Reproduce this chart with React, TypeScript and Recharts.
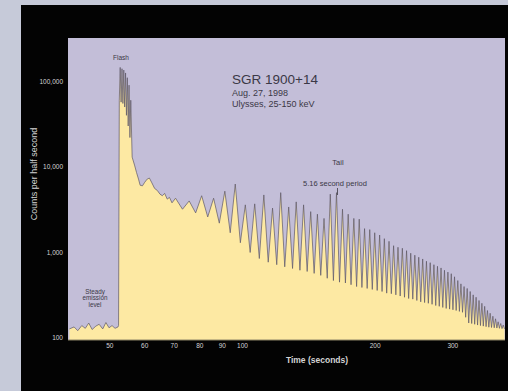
import { Area, CartesianGrid, ComposedChart, XAxis, YAxis } from "recharts";

// Ulysses light curve, SGR 1900+14, 27 Aug 1998 (counts per half second)
const preTimes = [40.5, 41.5, 42.3, 43.2, 44.0, 44.8, 45.6, 46.5, 47.3, 48.2, 49.0, 49.8, 50.6, 51.4, 52.2];
const preCounts = [128, 135, 122, 140, 130, 150, 126, 138, 145, 128, 152, 132, 140, 130, 135];

const flashTimes = [
  52.35, 52.55, 52.8, 53.05, 53.3, 53.55, 53.8, 54.05, 54.3, 54.55, 54.8, 55.05, 55.3, 55.55, 55.8,
  56.2, 56.9, 57.5, 58.1, 58.6, 59.3, 60.0, 60.8, 61.5, 62.3, 63.2, 64.1, 65.0, 65.8, 66.6, 67.5, 68.3, 69.2,
];
const flashCounts = [
  140, 60000, 145000, 57000, 140000, 55000, 135000, 50000, 125000, 40000, 110000, 30000, 90000, 22000, 60000,
  13000, 10500, 8600, 7200, 6100, 6000, 6600, 7200, 7400, 6500, 5600, 5300, 4800, 4600, 4900, 4200, 4400, 3800,
];

// 5.16 s pulsations in the tail
const pulsePeakTimes = [
  70.5, 75.7, 80.8, 86.0, 91.2, 96.3, 101.5, 106.6, 111.8, 117.0, 122.1, 127.3, 132.4, 137.6, 142.8, 147.9,
  153.1, 158.2, 163.4, 168.6, 173.7, 178.9, 184.0, 189.2, 194.4, 199.5, 204.7, 209.8, 215.0, 220.2, 225.3,
  230.5, 235.6, 240.8, 246.0, 251.1, 256.3, 261.4, 266.6, 271.8, 276.9, 282.1, 287.2, 292.4, 297.6, 302.7,
  307.9, 313.0, 318.2, 323.4, 328.5, 333.7, 338.8, 344.0, 349.2, 354.3, 359.5, 364.6, 369.8, 375.0, 380.1,
  385.3, 390.4,
];
const pulsePeakCounts = [
  4300, 4000, 4600, 4300, 5200, 6300, 3600, 3700, 4700, 3300, 5000, 3400, 3900, 3600, 3000, 2800,
  2500, 4800, 5000, 3200, 2800, 2500, 2450, 1900, 1850, 1700, 1600, 1450, 1350, 1200, 1150,
  1120, 1050, 980, 930, 880, 840, 790, 760, 720, 690, 660, 620, 590, 565, 520,
  470, 430, 400, 380, 350, 320, 300, 275, 255, 235, 210, 195, 180, 168, 155,
  148, 142,
];
const pulseTroughTimes = [
  73.1, 78.3, 83.4, 88.6, 93.8, 98.9, 104.1, 109.2, 114.4, 119.6, 124.7, 129.9, 135.0, 140.2, 145.4, 150.5,
  155.7, 160.8, 166.0, 171.2, 176.3, 181.5, 186.6, 191.8, 197.0, 202.1, 207.3, 212.4, 217.6, 222.8, 227.9,
  233.1, 238.2, 243.4, 248.6, 253.7, 258.9, 264.0, 269.2, 274.4, 279.5, 284.7, 289.8, 295.0, 300.2, 305.3,
  310.5, 315.6, 320.8, 326.0, 331.1, 336.3, 341.4, 346.6, 351.8, 356.9, 362.1, 367.2, 372.4, 377.6, 382.7,
  387.9, 393.0,
];
const pulseTroughCounts = [
  3200, 2900, 2600, 2200, 1700, 1300, 1000, 850, 770, 720, 680, 650, 620, 600, 570, 540,
  500, 470, 450, 440, 420, 400, 390, 380, 370, 360, 350, 335, 330, 320, 310,
  300, 290, 285, 275, 265, 260, 255, 248, 240, 235, 228, 222, 218, 214, 210,
  205, 200, 175, 150, 148, 145, 142, 140, 138, 136, 134, 133, 132, 131, 130,
  129, 128,
];

const X_TICKS = [50, 60, 70, 80, 90, 100, 200, 300];
const Y_TICKS = [100, 1000, 10000, 100000];

const FONT = '"Liberation Sans", Arial, sans-serif';
const PLOT_BG = "#c3bed8";
const FILL = "#fde9a3";
const INK = "#3b3846";
const LIGHT = "#d4d4d4";

function buildSeries() {
  const rows: Array<{ time: number; counts: number }> = [];
  preTimes.forEach((t, i) => rows.push({ time: t, counts: preCounts[i] }));
  flashTimes.forEach((t, i) => rows.push({ time: t, counts: flashCounts[i] }));
  pulsePeakTimes.forEach((t, i) => rows.push({ time: t, counts: pulsePeakCounts[i] }));
  pulseTroughTimes.forEach((t, i) => rows.push({ time: t, counts: pulseTroughCounts[i] }));
  return rows.sort((a, b) => a.time - b.time);
}

const data = buildSeries();

function Note({
  x,
  y,
  size,
  children,
  color = INK,
  align = "center",
  weight = 400,
}: {
  x: number;
  y: number;
  size: number;
  children: React.ReactNode;
  color?: string;
  align?: "center" | "left";
  weight?: number;
}) {
  return (
    <div
      style={{
        position: "absolute",
        left: x,
        top: y,
        transform: align === "center" ? "translate(-50%, -50%)" : "translate(0, -50%)",
        fontSize: size,
        fontWeight: weight,
        color,
        lineHeight: 1,
        whiteSpace: "nowrap",
        textAlign: "center",
      }}
    >
      {children}
    </div>
  );
}

export default function App() {
  return (
    <div
      style={{
        position: "fixed",
        left: 0,
        top: 0,
        width: 508,
        height: 391,
        overflow: "hidden",
        background: "#c6cad9",
        fontFamily: FONT,
      }}
    >
      <div style={{ position: "absolute", left: 21, top: 5, right: 0, bottom: 0, background: "#030303" }} />
      <div style={{ position: "absolute", left: 0, top: 0 }}>
        <ComposedChart width={508} height={391} data={data} margin={{ top: 38, right: 3, bottom: 21, left: 0 }}>
          <CartesianGrid fill={PLOT_BG} horizontal={false} vertical={false} />
          <XAxis
            allowDataOverflow
            axisLine={{ stroke: "#8c8466" }}
            dataKey="time"
            domain={[40.2, 394]}
            height={30}
            interval={0}
            scale="log"
            tick={{ fill: LIGHT, fontSize: 6.5, fontFamily: FONT }}
            tickMargin={3}
            tickSize={0}
            ticks={X_TICKS}
            type="number"
          />
          <YAxis
            allowDataOverflow
            axisLine={false}
            domain={[95, 320000]}
            interval={0}
            scale="log"
            tick={{ fill: LIGHT, fontSize: 6.5, fontFamily: FONT }}
            tickFormatter={(v: number) => v.toLocaleString("en-US")}
            tickMargin={5}
            tickSize={0}
            ticks={Y_TICKS}
            type="number"
            width={68}
          />
          <Area
            activeDot={false}
            baseValue="dataMin"
            dataKey="counts"
            dot={false}
            fill={FILL}
            fillOpacity={1}
            isAnimationActive={false}
            stroke="#5d5866"
            strokeWidth={0.7}
            type="linear"
          />
        </ComposedChart>
      </div>

      <Note x={121} y={58} size={6.5}>Flash</Note>
      <Note x={232} y={80} size={13.5} align="left">SGR 1900+14</Note>
      <Note x={232} y={93} size={9} align="left">Aug. 27, 1998</Note>
      <Note x={232} y={104} size={9} align="left">Ulysses, 25-150 keV</Note>
      <Note x={338} y={163} size={7.5}>Tail</Note>
      <Note x={335} y={184} size={7.5}>5.16 second period</Note>
      <div style={{ position: "absolute", left: 337, top: 188, width: 1, height: 7, background: "#55525e" }} />
      <Note x={95} y={298} size={6.3}>
        Steady
        <br />
        emission
        <br />
        level
      </Note>

      <Note x={317} y={360} size={8.5} color={LIGHT} weight={600}>Time (seconds)</Note>
      <div
        style={{
          position: "absolute",
          left: 34,
          top: 174,
          transform: "translate(-50%, -50%) rotate(-90deg)",
          fontSize: 9,
          color: LIGHT,
          whiteSpace: "nowrap",
          lineHeight: 1,
        }}
      >
        Counts per half second
      </div>
    </div>
  );
}
